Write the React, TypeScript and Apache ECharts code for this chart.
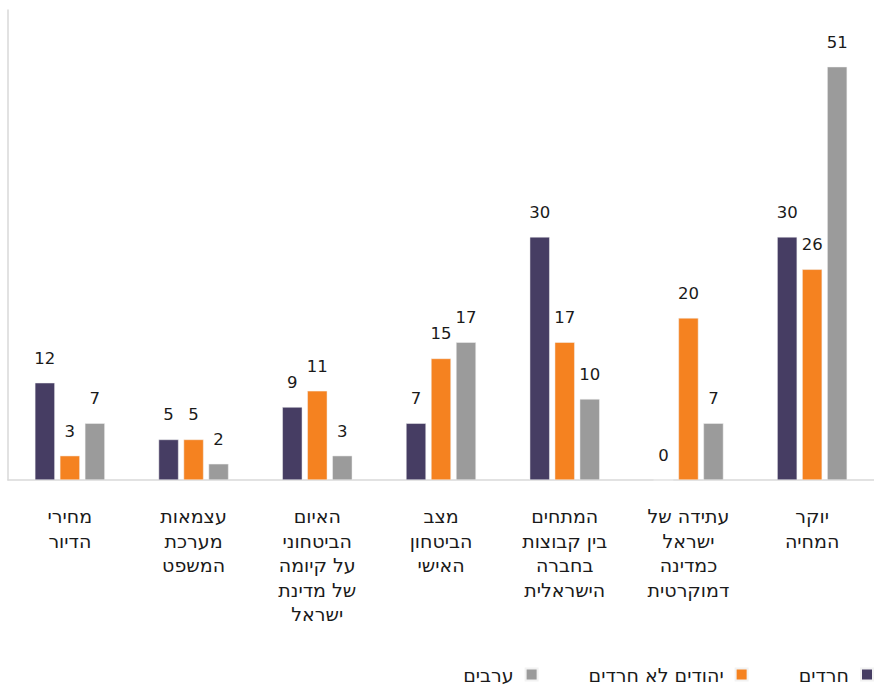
import React, { useEffect, useRef } from "react";
import * as echarts from "echarts";

const categories = [
  "מחירי\nהדיור",
  "עצמאות\nמערכת\nהמשפט",
  "האיום\nהביטחוני\nעל קיומה\nשל מדינת\nישראל",
  "מצב\nהביטחון\nהאישי",
  "המתחים\nבין קבוצות\nבחברה\nהישראלית",
  "עתידה של\nישראל\nכמדינה\nדמוקרטית",
  "יוקר\nהמחיה",
];

const seriesNames = ["חרדים", "יהודים לא חרדים", "ערבים"];
const haredim = [12, 5, 9, 7, 30, 0, 30];
const jewsNonHaredi = [3, 5, 11, 15, 17, 20, 26];
const arabs = [7, 2, 3, 17, 10, 7, 51];
const colors = ["#463D63", "#F58220", "#9B9B9B"];

const FONT = "DejaVu Sans";
const HEB_FONT = "DejaVu Sans";

export default function App() {
  const ref = useRef<HTMLDivElement>(null);
  useEffect(() => {
    if (!ref.current) return;
    const chart = echarts.init(ref.current, null, { renderer: "svg" });
    const values = [haredim, jewsNonHaredi, arabs];
    chart.setOption({
      animation: false,
      textStyle: { fontFamily: FONT },
      grid: { left: 8, top: 10, width: 878, bottom: 205, containLabel: false },
      legend: {
        data: [seriesNames[2], seriesNames[1], seriesNames[0]],
        right: 0,
        top: 660,
        padding: [5, 0, 5, 5],
        align: "right",
        itemWidth: 12,
        itemHeight: 12,
        itemGap: 50,
        icon: "rect",
        textStyle: { fontFamily: HEB_FONT, fontSize: 19, lineHeight: 19, color: "#1a1a1a", padding: [0, 7, 0, 0] },
      },
      xAxis: {
        type: "category",
        data: categories,
        axisLine: { show: true, lineStyle: { color: "#D9D9D9", width: 1.5 } },
        axisTick: { show: false },
        axisLabel: {
          interval: 0,
          margin: 24,
          fontFamily: HEB_FONT,
          fontSize: 19,
          lineHeight: 24.5,
          color: "#1a1a1a",
          align: "center",
        },
      },
      yAxis: {
        type: "value",
        min: 0,
        max: 58,
        axisLine: { show: true, lineStyle: { color: "#D9D9D9", width: 1.5 } },
        axisTick: { show: false },
        axisLabel: { show: false },
        splitLine: { show: false },
      },
      series: seriesNames.map((name, i) => ({
        name,
        type: "bar",
        data: values[i],
        barWidth: 20,
        barGap: "25%",
        itemStyle: { color: colors[i], borderColor: "#F2F2F2", borderWidth: 0.5 },
        label: {
          show: true,
          position: "top",
          distance: 16,
          fontFamily: FONT,
          fontSize: 16.5,
          color: "#1a1a1a",
        },
      })),
    });
    return () => chart.dispose();
  }, []);
  return (
    <div
      ref={ref}
      style={{ position: "absolute", left: 0, top: 0, width: 874, height: 685 }}
    />
  );
}
